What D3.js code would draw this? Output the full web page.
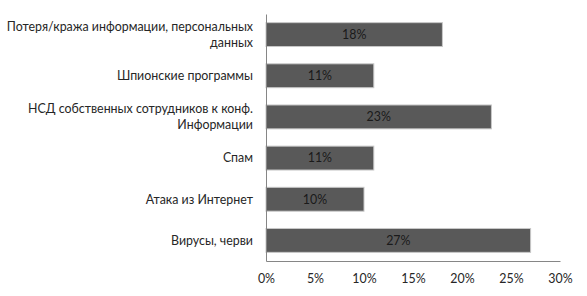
<!DOCTYPE html>
<html><head><meta charset="utf-8">
<script src="https://cdn.jsdelivr.net/npm/d3@7"></script>
<style>body{margin:0;background:#fff;} text{font-family:Lato, "Open Sans", sans-serif;}</style>
</head><body>
<svg id="c" width="587" height="296"></svg>
<script>
const categories = [
  ["Потеря/кража информации, персональных", "данных"],
  ["Шпионские программы"],
  ["НСД собственных сотрудников к конф.", "Информации"],
  ["Спам"],
  ["Атака из Интернет"],
  ["Вирусы, черви"]
];
const values = [18, 11, 23, 11, 10, 27];
const ticks = [0, 5, 10, 15, 20, 25, 30];

const svg = d3.select("#c");
const m = {left: 266, right: 27, top: 14, bottom: 35};
const W = 587, H = 296;
const FS = 12.4;
const x = d3.scaleLinear().domain([0, 30]).range([m.left, W - m.right]);
const y = d3.scaleBand().domain(d3.range(categories.length)).range([m.top, H - m.bottom]).paddingInner(0.42).paddingOuter(0.21);

svg.selectAll("rect.bar").data(values).join("rect")
  .attr("class","bar")
  .attr("x", x(0)).attr("y", (d,i)=>y(i))
  .attr("width", d=>x(d)-x(0)).attr("height", y.bandwidth())
  .attr("fill","#595959").attr("stroke","#c8c8c8").attr("stroke-width",1);

svg.selectAll("text.val").data(values).join("text")
  .attr("class","val")
  .attr("x", d=>(x(0)+x(d))/2).attr("y",(d,i)=>y(i)+y.bandwidth()/2)
  .attr("dy","0.35em").attr("text-anchor","middle")
  .attr("font-size",FS).attr("fill","#1a1a1a").text(d=>d+"%");

const lab = svg.selectAll("text.cat").data(categories).join("text")
  .attr("class","cat").attr("text-anchor","end").attr("font-size",FS).attr("fill","#262626");
lab.each(function(d,i){
  const t = d3.select(this);
  const cy = y(i)+y.bandwidth()/2;
  const n = d.length, lh = 16.2;
  d.forEach((s,k)=>{
    t.append("tspan").attr("x", 253).attr("y", cy + (k-(n-1)/2)*lh).attr("dy","0.35em").text(s);
  });
});

const xa = svg.append("g").attr("transform",`translate(0,${H-m.bottom})`)
  .call(d3.axisBottom(x).tickValues(ticks).tickFormat(d=>d+"%").tickSize(0).tickPadding(13));
xa.select(".domain").attr("stroke","#868686");
xa.selectAll("text").attr("font-size",FS).attr("fill","#262626").attr("font-family","Lato, sans-serif");

const ya = svg.append("g").attr("transform",`translate(${m.left},0)`)
  .call(d3.axisLeft(y).tickSize(0).tickFormat(""));
ya.select(".domain").attr("stroke","#868686");
</script>
</body></html>
